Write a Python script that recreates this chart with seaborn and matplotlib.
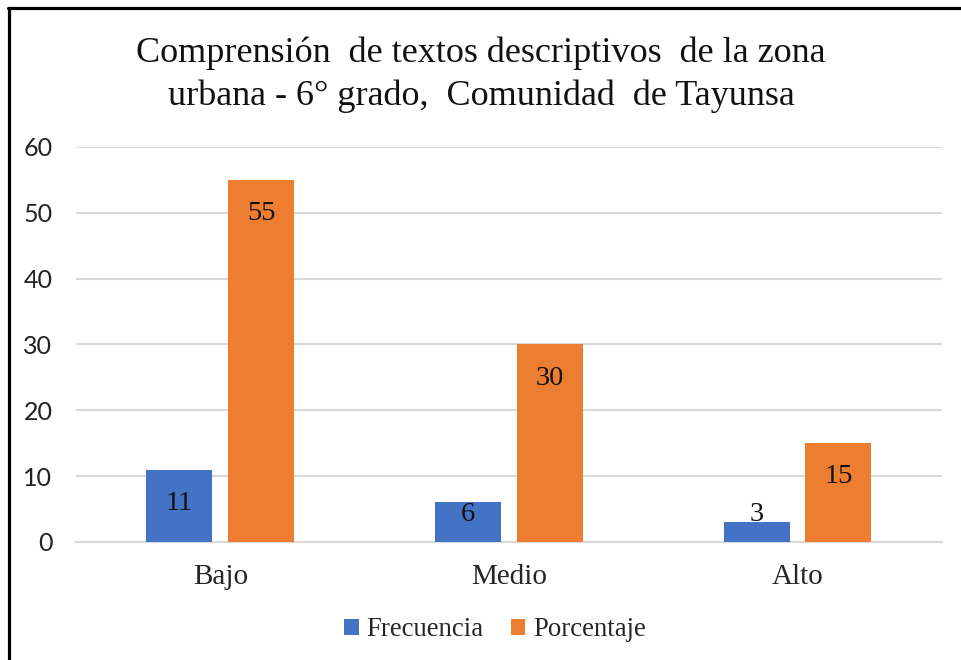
import pandas as pd
import numpy as np
import matplotlib
matplotlib.use("Agg")
import matplotlib.pyplot as plt
from matplotlib.lines import Line2D
import seaborn as sns

categorias = ["Bajo", "Medio", "Alto"]
frecuencia = [11, 6, 3]
porcentaje = [55, 30, 15]
series = ["Frecuencia", "Porcentaje"]
colores = ["#4472C4", "#ED7D31"]
titulo = "Comprensión  de textos descriptivos  de la zona\nurbana - 6° grado,  Comunidad  de Tayunsa"

df = pd.DataFrame({
    "nivel": categorias * 2,
    "serie": [series[0]] * 3 + [series[1]] * 3,
    "valor": frecuencia + porcentaje,
})

sns.set_style("white")
plt.rcParams["font.family"] = ["Liberation Serif", "DejaVu Serif"]

fig = plt.figure(figsize=(9.62, 6.6), dpi=100)
ax = fig.add_axes([0.079, 0.1788, 0.9, 0.5985])

sns.barplot(data=df, x="nivel", y="valor", hue="serie", palette=colores,
            width=0.568, gap=0.195, saturation=1, linewidth=0,
            edgecolor="none", ax=ax, zorder=3)

ax.set_ylim(0, 60)
ax.set_xlim(-0.5, 2.5)
ax.set_yticks(np.arange(0, 61, 10))
ax.yaxis.grid(True, color="#D9D9D9", linewidth=1.5, zorder=0)
ax.set_axisbelow(True)
for s in ax.spines.values():
    s.set_visible(False)
ax.spines["bottom"].set_visible(True)
ax.spines["bottom"].set_color("#D9D9D9")
ax.spines["bottom"].set_linewidth(1.5)
ax.tick_params(axis="both", length=0)
ax.tick_params(axis="y", pad=17)
ax.tick_params(axis="x", pad=16)
for t in ax.get_yticklabels():
    t.set_family(["Lato", "DejaVu Sans"])
    t.set_fontsize(18)
    t.set_color("#222222")
for t in ax.get_xticklabels():
    t.set_fontsize(21)
ax.set_xlabel("")
ax.set_ylabel("")

# etiquetas de datos dentro de las barras
for p in ax.patches:
    h = p.get_height()
    if h <= 0:
        continue
    ax.text(p.get_x() + p.get_width() / 2, max(h - 5.1, 4.1), f"{h:g}",
            ha="center", va="center", fontsize=20.5, color="#111111", zorder=4)

handles, labels = ax.get_legend_handles_labels()
ax.legend(handles, labels, loc="center", bbox_to_anchor=(0.484, -0.222),
          ncol=2, frameon=False, fontsize=19.3, handlelength=0.55,
          handleheight=0.55, handletextpad=0.3, columnspacing=1.0)

fig.text(0.5, 0.887, titulo, ha="center", va="center", fontsize=26,
         linespacing=1.38, color="#111111")

# marco del recuadro
fig.add_artist(Line2D([0.0094, 0.0094], [0, 0.988], color="black", linewidth=2.3))
fig.add_artist(Line2D([0.0082, 1], [0.988, 0.988], color="black", linewidth=2.3))

fig.savefig("out.png", dpi=100)
